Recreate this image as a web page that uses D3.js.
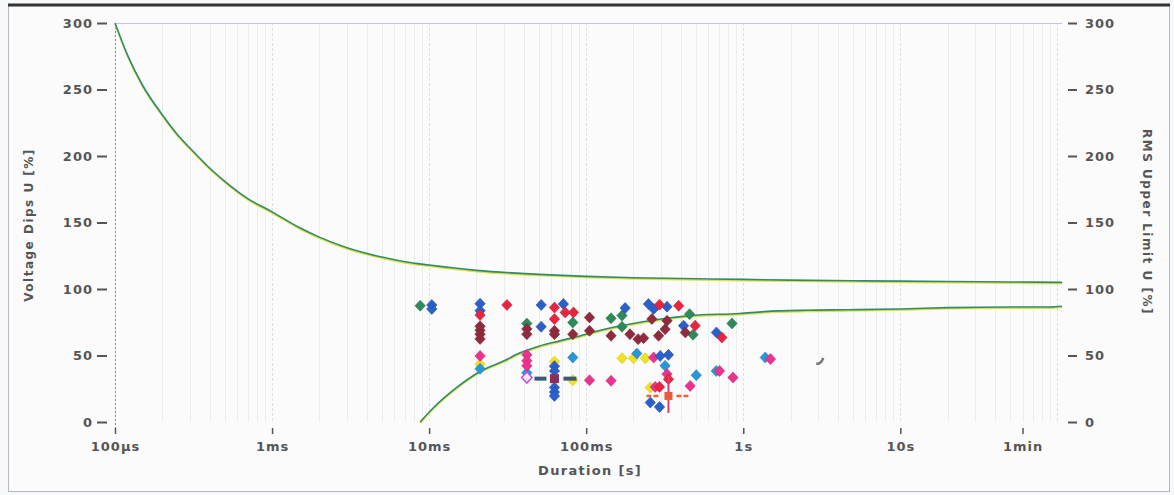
<!DOCTYPE html>
<html><head><meta charset="utf-8">
<script src="https://cdn.jsdelivr.net/npm/d3@7"></script>
<style>
html,body{margin:0;padding:0;background:#f7f8fa;}
svg{display:block;}
text{font-family:"DejaVu Sans",Verdana,sans-serif;font-weight:bold;fill:#555;}
</style></head>
<body><svg id="c" width="1174" height="495"></svg>
<script>
// ---------- data ----------
const xTickValues = [1e-4, 1e-3, 1e-2, 1e-1, 1, 10, 60];
const xTickLabels = ["100µs", "1ms", "10ms", "100ms", "1s", "10s", "1min"];
const yTickValues = [0, 50, 100, 150, 200, 250, 300];

const upperDur = [1e-4, 1.2e-4, 1.5e-4, 2e-4, 2.5e-4, 3e-4, 4e-4, 5e-4, 7e-4, 1e-3, 1.5e-3, 2e-3, 3e-3, 5e-3, 7e-3, 1e-2, 2e-2, 5e-2, 0.1, 0.2, 0.5, 1, 2, 5, 10, 20, 50, 107];
const upperVal = [300, 276, 253, 231, 216, 206, 191, 181, 168, 158, 146, 139, 131, 124, 120.5, 118, 114, 111, 109.5, 108.5, 107.7, 107.2, 106.7, 106.2, 105.9, 105.6, 105.3, 105];

const lowerDur = [0.00877, 0.0105, 0.015, 0.0211, 0.03, 0.038, 0.05, 0.068, 0.1, 0.12, 0.16, 0.22, 0.3, 0.46, 0.95, 1.37, 2.5, 4.7, 10, 20, 50, 90, 107];
const lowerVal = [0, 10, 26, 38, 46, 52, 57, 61, 66, 68.6, 72, 75, 77.5, 80, 81.6, 83, 84, 84.4, 85, 86, 86.5, 86.5, 87];

const yellowDips = [[0.0211,43.5],[0.0628,45.5],[0.0822,31.4],[0.169,48],[0.238,48],[0.256,25.9],[0.2,48]];
const cyanDips = [[0.0211,40],[0.0419,37],[0.0822,48.5],[0.210,51.5],[0.502,35.2],[0.673,38.4],[1.38,48.5],[0.318,42.2]];
const pinkDips = [[0.0211,49.7],[0.0419,50.5],[0.0419,46],[0.0419,42.2],[0.105,31.4],[0.144,31],[0.269,48.5],[0.327,36],[0.275,26.4],[0.459,27.1],[0.706,38.4],[0.86,33.4],[1.49,47.3]];
const purpleDips = [[0.0419,33.4]];
const greenDips = [[0.00877,87.4],[0.0419,74],[0.0822,74.8],[0.144,78],[0.169,80],[0.169,71.6],[0.455,81.1],[0.479,65.6],[0.848,74.1]];
const blueDips = [[0.0104,88],[0.0104,85],[0.0211,89],[0.0211,83.7],[0.0517,88],[0.0716,88.7],[0.0517,71.6],[0.177,85.7],[0.249,88.7],[0.269,85],[0.327,86.7],[0.417,72.4],[0.675,67.3],[0.296,49.7],[0.334,50.5],[0.0628,42],[0.0628,38.4],[0.0628,26],[0.0628,22.5],[0.0628,19.6],[0.256,14.6],[0.293,11.3]];
const redDips = [[0.0211,80.4],[0.0313,88],[0.0628,86],[0.0735,82.4],[0.083,82.4],[0.0628,77.4],[0.293,88.2],[0.388,87.4],[0.494,72.4],[0.731,63.5],[0.334,32.2],[0.293,26.4]];
const maroonDips = [[0.0211,72],[0.0211,69],[0.0211,66],[0.0211,62.5],[0.0419,70],[0.0419,66],[0.0628,68.6],[0.0628,66],[0.0822,66],[0.105,78.6],[0.105,68.6],[0.144,64.8],[0.190,66],[0.214,62.3],[0.262,77.4],[0.327,76.1],[0.232,63],[0.289,64.8],[0.318,69.8],[0.428,67.3]];
const crossMarks = [[0.0628,32.6],[0.334,19.6]];
const greyMark = [[3.09,46]];

// ---------- drawing ----------
const svg = d3.select("#c");
const x = d3.scaleLog().domain([1e-4, 107]).range([115, 1062]);
const y = d3.scaleLinear().domain([0, 300]).range([422, 23]);

// frame
svg.append("rect").attr("x",8.5).attr("y",5.5).attr("width",1161).attr("height",486)
  .attr("fill","#fbfbfc").attr("stroke","#b8b8bc");
svg.append("line").attr("x1",8).attr("x2",1170).attr("y1",5).attr("y2",5).attr("stroke","#333").attr("stroke-width",3);

// vertical grid (log minors)
const grid = [];
for (let e = -4; e <= 2; e++) for (let m = 1; m <= 9; m++) { const v = m * Math.pow(10, e); if (v >= 1e-4 && v <= 107) grid.push(v); }
svg.append("g").selectAll("line").data(grid).join("line")
  .attr("x1", d => Math.round(x(d)) + 0.5).attr("x2", d => Math.round(x(d)) + 0.5)
  .attr("y1", 23).attr("y2", 422)
  .attr("stroke", d => (Math.abs(Math.log10(d) % 1) < 1e-9) ? "#dedee6" : "#ececf1")
  .attr("stroke-dasharray", d => (Math.abs(Math.log10(d) % 1) < 1e-9) ? "3,2" : null);

// top line and left axis line
svg.append("line").attr("x1",115).attr("x2",1062).attr("y1",23.5).attr("y2",23.5).attr("stroke","#c9c3de");
svg.append("line").attr("x1",115.5).attr("x2",115.5).attr("y1",23).attr("y2",432).attr("stroke","#8a8a96").attr("stroke-dasharray","2,2");

// axes
const yl = svg.append("g").attr("transform","translate(110,0)")
  .call(d3.axisLeft(y).tickValues(yTickValues).tickSize(12).tickPadding(5));
const yr = svg.append("g").attr("transform","translate(1068,0)")
  .call(d3.axisRight(y).tickValues(yTickValues).tickSize(9).tickPadding(8));
const xb = svg.append("g").attr("transform","translate(0,428)")
  .call(d3.axisBottom(x).tickValues(xTickValues).tickFormat((d,i) => xTickLabels[i]).tickSize(6).tickPadding(8));
[yl, yr, xb].forEach(g => {
  g.select(".domain").remove();
  g.selectAll(".tick line").attr("stroke","#555").attr("stroke-width",2);
  g.selectAll(".tick text").attr("fill","#555").style("font-size","13px").style("letter-spacing","1px")
    .style("font-family","'DejaVu Sans',sans-serif").style("font-weight","bold");
});
yl.selectAll(".tick line").attr("x1",-13).attr("x2",-3);
xb.selectAll(".tick line").attr("stroke-width",1.5);

// titles
svg.append("text").attr("transform","translate(33,225) rotate(-90)").attr("text-anchor","middle")
  .style("font-size","12px").style("letter-spacing","1.5px").text("Voltage Dips U [%]");
svg.append("text").attr("transform","translate(1143,222) rotate(90)").attr("text-anchor","middle")
  .style("font-size","12px").style("letter-spacing","1.5px").text("RMS Upper Limit U [%]");
svg.append("text").attr("x",590).attr("y",475).attr("text-anchor","middle")
  .style("font-size","13px").style("letter-spacing","1.3px").text("Duration [s]");

// curves
function drawCurve(durs, vals) {
  const pts = durs.map((d,i) => [x(d), y(vals[i])]);
  const line = d3.line().curve(d3.curveMonotoneX);
  svg.append("path").attr("d", line(pts)).attr("fill","none").attr("stroke","#e3e13a").attr("stroke-width",1.6).attr("transform","translate(0,1.2)");
  svg.append("path").attr("d", line(pts)).attr("fill","none").attr("stroke","#2f8a70").attr("stroke-width",1.6);
}
drawCurve(upperDur, upperVal);
drawCurve(lowerDur, lowerVal);

// diamonds
const diamond = "M0,-5.5L5.2,0L0,5.5L-5.2,0Z";
function drawDips(data, color) {
  svg.append("g").selectAll("path").data(data).join("path")
    .attr("d", diamond)
    .attr("transform", d => `translate(${x(d[0])},${y(d[1])})`)
    .attr("fill", color).attr("stroke", d3.color(color).darker(0.4)).attr("stroke-width",0.6);
}
drawDips(yellowDips, "#f1e21e");
drawDips(cyanDips, "#2996d6");
drawDips(pinkDips, "#e9338e");
svg.append("g").selectAll("path").data(purpleDips).join("path").attr("d", diamond)
  .attr("transform", d => `translate(${x(d[0])},${y(d[1])})`).attr("fill","#f4e8f8").attr("stroke","#c44fd8").attr("stroke-width",1.5);
drawDips(greenDips, "#2f8a5b");
drawDips(blueDips, "#2b5fc9");
drawDips(redDips, "#e8253f");
drawDips(maroonDips, "#8e2c3e");

// cross markers
const c1 = crossMarks[0], c2 = crossMarks[1];
const g1 = svg.append("g").attr("transform",`translate(${x(c1[0])},${y(c1[1])})`);
g1.append("rect").attr("x",-20).attr("y",-2).attr("width",12).attr("height",4).attr("fill","#3c5a73");
g1.append("rect").attr("x",9).attr("y",-2).attr("width",13).attr("height",4).attr("fill","#3c5a73");
g1.append("rect").attr("x",-4.5).attr("y",-4.5).attr("width",9).attr("height",9).attr("fill","#8b2f55");
const g2 = svg.append("g").attr("transform",`translate(${x(c2[0])},${y(c2[1])})`);
g2.append("line").attr("x1",0).attr("x2",0).attr("y1",-20).attr("y2",17).attr("stroke","#e23a6a").attr("stroke-width",2);
g2.append("line").attr("x1",-22).attr("x2",-8).attr("y1",0).attr("y2",0).attr("stroke","#e8653a").attr("stroke-width",2.5).attr("stroke-dasharray","5,2");
g2.append("line").attr("x1",8).attr("x2",21).attr("y1",0).attr("y2",0).attr("stroke","#e8653a").attr("stroke-width",2.5).attr("stroke-dasharray","5,2");
g2.append("rect").attr("x",-4).attr("y",-4).attr("width",8).attr("height",8).attr("fill","#ea5a3a");

// grey mark
svg.append("g").selectAll("path").data(greyMark).join("path")
  .attr("transform", d => `translate(${x(d[0])},${y(d[1])})`)
  .attr("d","M-4,3Q1,3.5,3,-3").attr("fill","none").attr("stroke","#777").attr("stroke-width",2.5);
</script></body></html>
